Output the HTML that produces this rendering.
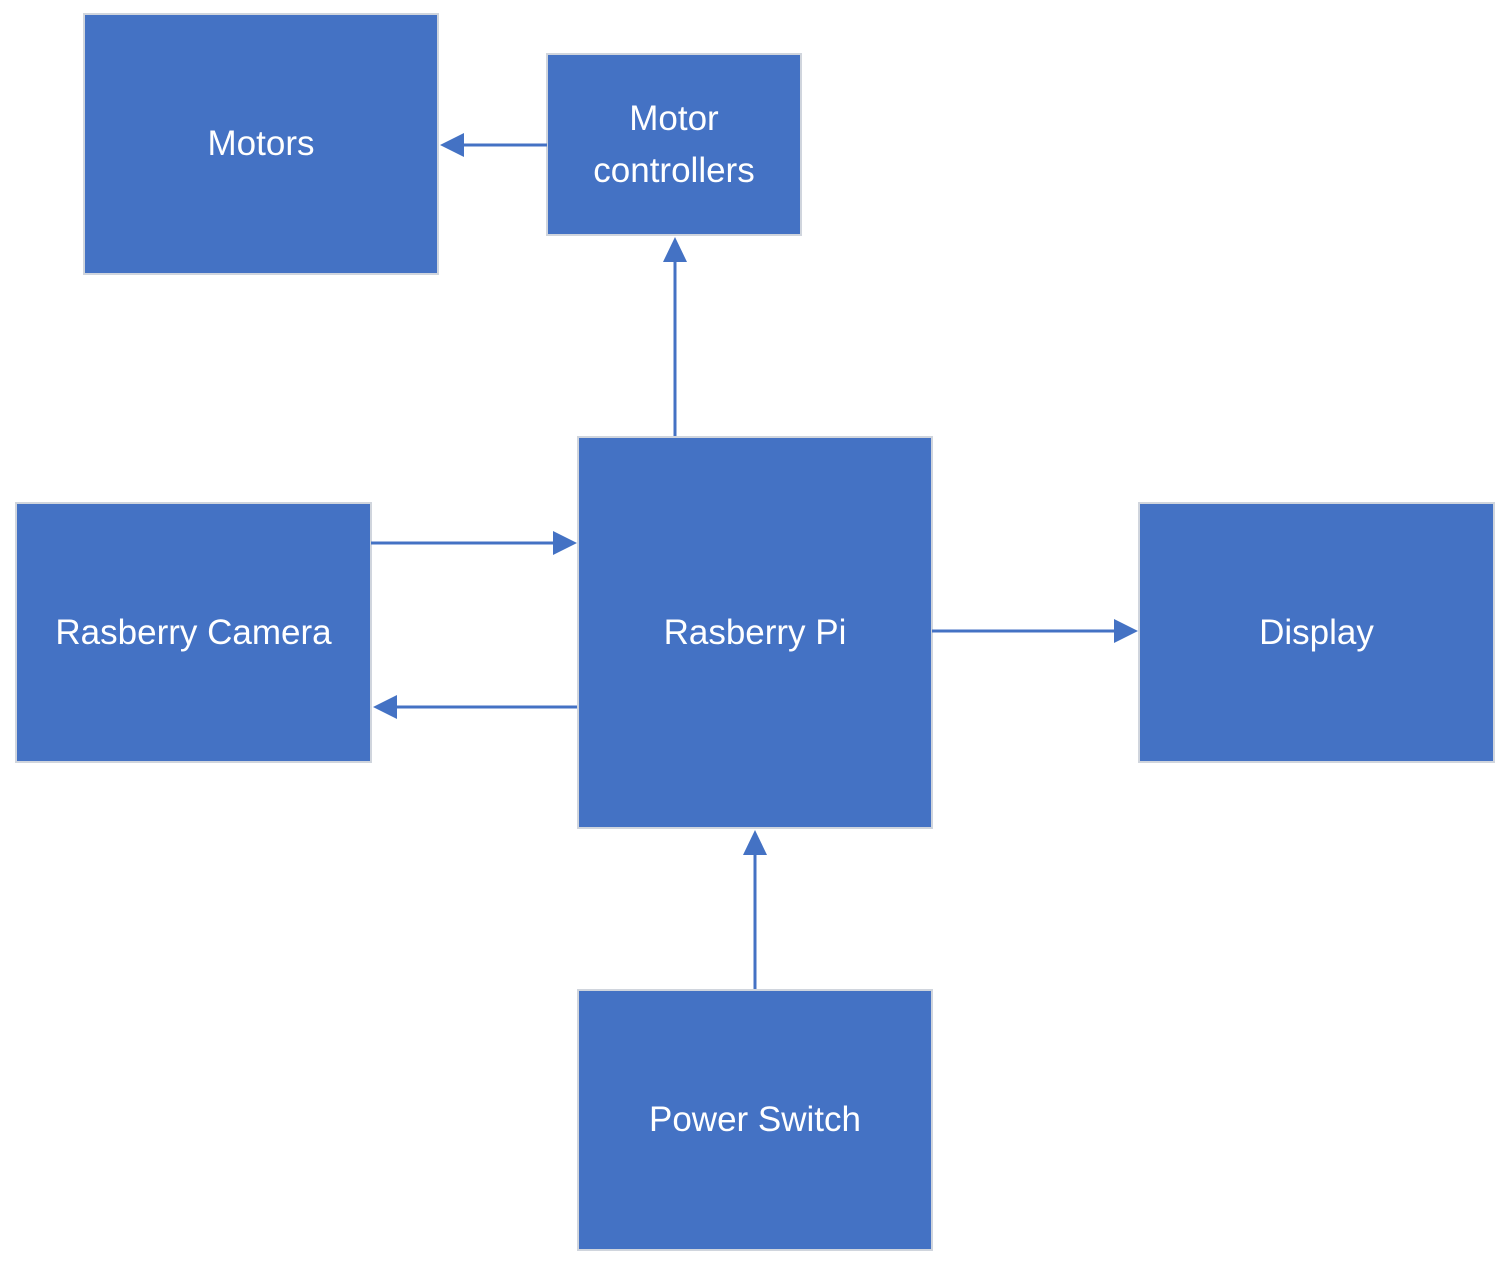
<!DOCTYPE html>
<html><head><meta charset="utf-8"><style>
html,body{margin:0;padding:0;background:#fff;}
body{width:1510px;height:1264px;position:relative;overflow:hidden;font-family:"Liberation Sans",sans-serif;}
.b{position:absolute;background:#4472C4;border:2px solid #d0d5dd;box-sizing:border-box;color:#fff;font-size:35px;display:flex;align-items:center;justify-content:center;text-align:center;line-height:52px;}
svg{position:absolute;left:0;top:0;}
</style></head><body>
<div class="b" style="left:83px;top:13px;width:356px;height:262px;">Motors</div>
<div class="b" style="left:546px;top:53px;width:256px;height:183px;">Motor<br>controllers</div>
<div class="b" style="left:577px;top:436px;width:356px;height:393px;">Rasberry Pi</div>
<div class="b" style="left:15px;top:502px;width:357px;height:261px;">Rasberry Camera</div>
<div class="b" style="left:1138px;top:502px;width:357px;height:261px;">Display</div>
<div class="b" style="left:577px;top:989px;width:356px;height:262px;">Power Switch</div>
<svg width="1510" height="1264">
<g stroke="#4472C4" stroke-width="3" fill="none">
<line x1="547" y1="145" x2="460" y2="145"/>
<line x1="675" y1="436" x2="675" y2="258"/>
<line x1="371" y1="543" x2="556" y2="543"/>
<line x1="577" y1="707" x2="394" y2="707"/>
<line x1="932" y1="631" x2="1117" y2="631"/>
<line x1="755" y1="989" x2="755" y2="852"/>
</g>
<g fill="#4472C4">
<polygon points="440,145 464,133 464,157"/>
<polygon points="675,237 663,262 687,262"/>
<polygon points="577,543 553,531 553,555"/>
<polygon points="373,707 397,695 397,719"/>
<polygon points="1138,631 1114,619 1114,643"/>
<polygon points="755,830 743,855 767,855"/>
</g>
</svg>
</body></html>
